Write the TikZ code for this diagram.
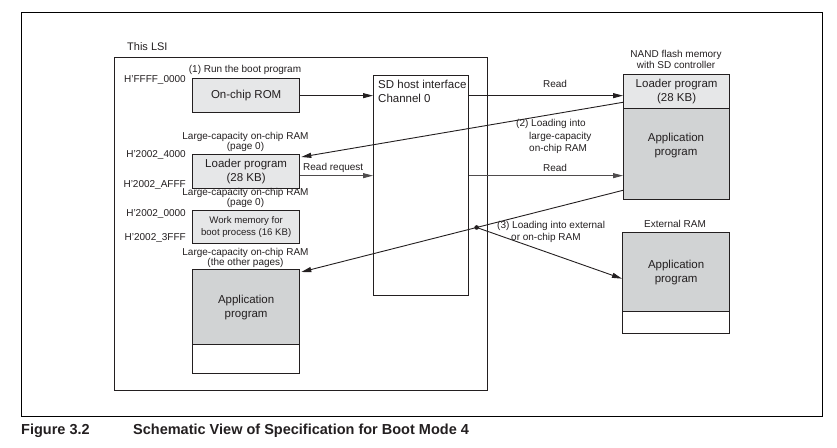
\documentclass[tikz,border=0pt]{standalone}
\usepackage{fontspec}
\setmainfont{Liberation Sans}
\usetikzlibrary{arrows.meta,calc}
\definecolor{lgray}{RGB}{230,231,232}
\definecolor{dgray}{RGB}{209,211,212}
\definecolor{ink}{RGB}{35,31,32}
\begin{document}
\begin{tikzpicture}[x=1pt,y=-1pt,
  box/.style={draw=ink, line width=1.3pt, inner sep=0pt, anchor=north west,
              font=\fontsize{11.5}{14}\selectfont, align=center, text=ink},
  boxtext/.style={font=\fontsize{11.5}{14}\selectfont, align=center, text=ink, inner sep=0pt},
  lbl/.style={font=\fontsize{10}{10.5}\selectfont, inner sep=0pt, text=ink, align=center},
  arr/.style={draw=ink, line width=0.9pt, -{Triangle[length=10pt,width=5pt]}},
]
\useasboundingbox (0,0) rectangle (837,447);
% outer frame
\draw[line width=1pt] (21,12) rectangle (822,416);

% LSI
\node[box, fill=white, minimum width=373pt, minimum height=333pt] (lsi) at (114,57) {};
\node[lbl, anchor=west, font=\fontsize{11}{12}\selectfont] (lsilbl) at (127,47) {This LSI};

% SD host interface
\node[box, minimum width=95pt, minimum height=220pt] (sd) at (373,75) {};
\node[boxtext, align=left, anchor=north west] (sdtxt) at (378,79.5) {SD host interface\\Channel 0};

% on-chip ROM
\node[box, fill=lgray, minimum width=107pt, minimum height=34pt] (rom) at (192,78) {On-chip ROM};
\node[lbl] (runlbl) at (245,70) {(1) Run the boot program};
\node[lbl, anchor=east] (a1) at (186,80) {H'FFFF\_0000};

% loader program in LSI
\node[lbl] (ram1) at (245.5,142) {Large-capacity on-chip RAM\\(page 0)};
\node[box, fill=lgray, minimum width=107pt, minimum height=34pt] (ldr) at (192,154) {Loader program\\(28 KB)};
\node[lbl, anchor=east] (a2) at (186,155) {H'2002\_4000};
\node[lbl, anchor=east] (a3) at (186,185) {H'2002\_AFFF};

% work memory
\node[lbl] (ram2) at (245.5,198) {Large-capacity on-chip RAM\\(page 0)};
\node[box, fill=lgray, minimum width=107pt, minimum height=33pt,
      font=\fontsize{9.6}{12}\selectfont] (work) at (192,210) {Work memory for\\boot process (16 KB)};
\node[lbl, anchor=east] (a4) at (186,214) {H'2002\_0000};
\node[lbl, anchor=east] (a5) at (186,238) {H'2002\_3FFF};

% application in LSI
\node[lbl] (ram3) at (245.5,258) {Large-capacity on-chip RAM\\(the other pages)};
\node[box, fill=dgray, minimum width=107pt, minimum height=75pt] (lapp) at (192,269) {Application\\program};
\node[box, fill=white, minimum width=107pt, minimum height=29pt] (lappw) at (192,344) {};

% NAND flash
\node[lbl] (nandlbl) at (676,59.5) {NAND flash memory\\with SD controller};
\node[box, fill=lgray, minimum width=106pt, minimum height=34pt] (nldr) at (623,74) {Loader program\\(28 KB)};
\node[box, fill=dgray, minimum width=106pt, minimum height=91pt] (napp) at (623,108) {};
\node[boxtext] (napptxt) at (676,146) {Application\\program};

% External RAM
\node[lbl] (extlbl) at (675,224) {External RAM};
\node[box, fill=dgray, minimum width=107pt, minimum height=79pt] (eapp) at (622,232) {Application\\program};
\node[box, fill=white, minimum width=107pt, minimum height=22pt] (eappw) at (622,311) {};

% connectors
\draw[arr] (rom.east) -- (rom.east -| sd.west);
\draw[arr] (rom.east -| sd.east) -- (rom.east -| nldr.west);
\node[lbl] (read1) at (555,84) {Read};

\coordinate (s3) at ($(nldr.south west)+(0,-7)$);
\coordinate (t3) at ($(ldr.north east)+(1,3)$);
\draw[arr] (s3) -- (t3);
\node[lbl, align=left, anchor=west, font=\fontsize{10}{12.5}\selectfont] (lbl2) at (516,136.5)
  {(2) Loading into\\\hspace*{13pt}large-capacity\\\hspace*{13pt}on-chip RAM};

\coordinate (rq) at ($(ldr.east)+(0,4)$);
\draw[arr, draw=ink!80] (rq) -- (rq -| sd.west);
\node[lbl, anchor=west] (rqlbl) at (303,168) {Read request};
\draw[arr, draw=ink!80] (rq -| sd.east) -- (rq -| napp.west);
\node[lbl] (read2) at (555,168) {Read};

\coordinate (s6) at ($(napp.south west)+(0,-10)$);
\coordinate (t6) at ($(lapp.north east)+(1,3)$);
\draw[arr] (s6) -- (t6);
\coordinate (dot) at ($(s6)!0.455!(t6)$);
\fill[ink] (dot) circle (2.3pt);
\draw[arr] (dot) -- ($(eapp.west)+(0,6.5)$);
\node[lbl, align=left, anchor=west, font=\fontsize{10}{12}\selectfont] (lbl3) at (497,232)
  {(3) Loading into external\\\hspace*{14pt}or on-chip RAM};

% caption
\node[anchor=west, inner sep=0pt, font=\fontsize{14.5}{16}\selectfont\bfseries, text=ink] (fig) at (21,431) {Figure 3.2};
\node[anchor=west, inner sep=0pt, font=\fontsize{14.5}{16}\selectfont\bfseries, text=ink] (cap) at (133,431) {Schematic View of Specification for Boot Mode 4};
\end{tikzpicture}
\end{document}
